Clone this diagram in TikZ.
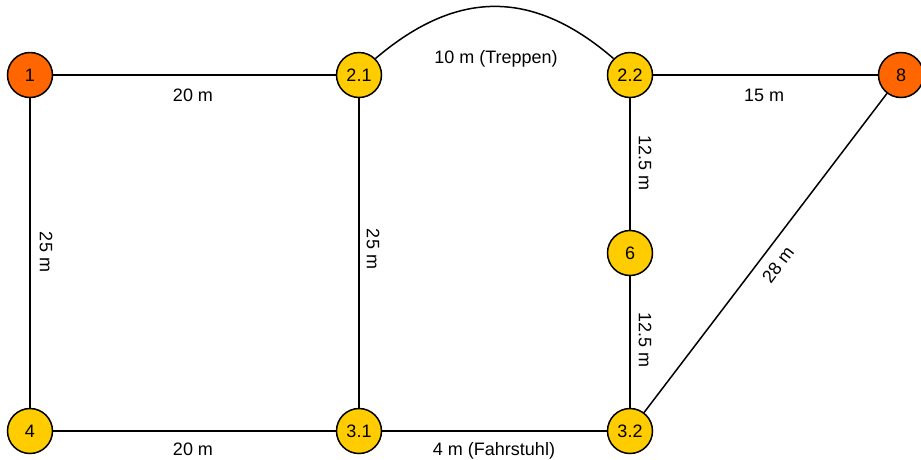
\documentclass[tikz,border=0pt]{standalone}
\usepackage{fontspec}
\setmainfont{Liberation Sans}
\definecolor{orangefill}{HTML}{FF6600}
\definecolor{yellowfill}{HTML}{FFCC00}
\begin{document}
\begin{tikzpicture}[x=1pt,y=-1pt,
  vertex/.style={circle, draw=black, line width=1.5pt, minimum size=45pt, inner sep=0pt, font=\fontsize{18}{20}\selectfont},
  hot/.style={vertex, fill=orangefill},
  warm/.style={vertex, fill=yellowfill},
  edge/.style={line width=1.5pt, draw=black},
  lbl/.style={font=\fontsize{18}{20}\selectfont, inner sep=0pt}]
\useasboundingbox (0,0) rectangle (921,459);
% vertices
\node[hot]  (n1)  at (30,75)   {1};
\node[warm] (n21) at (359,75)  {2.1};
\node[warm] (n22) at (630,75)  {2.2};
\node[hot]  (n8)  at (901,75)  {8};
\node[warm] (n6)  at (630,253) {6};
\node[warm] (n4)  at (30,431)  {4};
\node[warm] (n31) at (359,431) {3.1};
\node[warm] (n32) at (630,431) {3.2};
% edges
\draw[edge] (n1) -- (n21);
\draw[edge] (n1) -- (n4);
\draw[edge] (n21) -- (n31);
\draw[edge] (n4) -- (n31);
\draw[edge] (n31) -- (n32);
\draw[edge] (n22) -- (n8);
\draw[edge] (n22) -- (n6);
\draw[edge] (n6) -- (n32);
\draw[edge] (n32) -- (n8);
\draw[edge] (n21.45) .. controls (457,-11) and (533,-11) .. (n22.135);
% labels
\node[lbl, anchor=base] (t1) at (193,101.5) {20 m};
\node[lbl, anchor=base] (t2) at (496,63.5) {10 m (Treppen)};
\node[lbl, anchor=base] (t3) at (764,101.5) {15 m};
\node[lbl, rotate=-90] (t4) at (46,252) {25 m};
\node[lbl, rotate=-90] (t5) at (373,249) {25 m};
\node[lbl, rotate=-90] (t6) at (645,163) {12.5 m};
\node[lbl, rotate=-90] (t7) at (645,340) {12.5 m};
\node[lbl, rotate=52.7] (t8) at (778,265) {28 m};
\node[lbl, anchor=base] (t9) at (193,455) {20 m};
\node[lbl, anchor=base] (t10) at (494,455) {4 m (Fahrstuhl)};
\end{tikzpicture}
\end{document}
